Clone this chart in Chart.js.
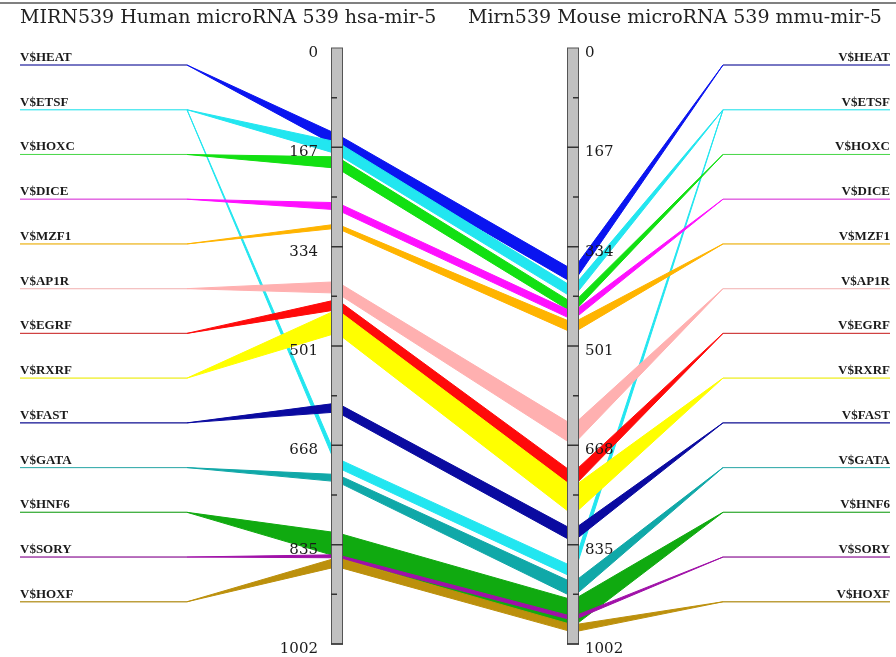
<!DOCTYPE html>
<html>
<head>
<meta charset="utf-8">
<script src="https://cdn.jsdelivr.net/npm/chart.js@4"></script>
<style>
  body { margin: 0; background: #fff; }
</style>
</head>
<body>
<canvas id="myChart" width="896" height="657"></canvas>
<script>
// factors and their site ranges (position in bp, 0..1002)
const factors = ['V$HEAT', 'V$ETSF', 'V$HOXC', 'V$DICE', 'V$MZF1', 'V$AP1R', 'V$EGRF',
  'V$RXRF', 'V$FAST', 'V$GATA', 'V$HNF6', 'V$SORY', 'V$HOXF'];
const colors = ['#0a14f0', '#22e6f0', '#12e012', '#ff10ff', '#ffb400', '#ffb0b0', '#ff0a0a',
  '#ffff00', '#0a0aa0', '#10a8a8', '#10aa10', '#a010a8', '#bc900c'];
const lineColors = ['#4a4ab0', '#50e8f0', '#50d850', '#e060e0', '#f0c040', '#f4c0c0', '#d04040',
  '#f0f040', '#3030a0', '#40b0b0', '#40b040', '#a040a8', '#b89830'];
const humanStart = [145, 158, 183, 260, 296, 393, 423, 440, 597, 717, 815, 852, 857];
const humanEnd   = [165, 178, 202, 272, 303, 412, 440, 479, 612, 729, 855, 857, 872];
const mouseStart = [373, 402, 429, 444, 462, 634, 714, 738, 810, 899, 928, 956, 970];
const mouseEnd   = [395, 420, 445, 457, 479, 667, 738, 785, 830, 923, 973, 962, 982];

// second group of sites for V$ETSF
const extraFactor = [1];
const extraHumanStart = [690];
const extraHumanEnd = [705];
const extraMouseStart = [872];
const extraMouseEnd = [890];

const tickValues = [0, 167, 334, 501, 668, 835, 1002];
const titleHuman = 'MIRN539 Human microRNA 539 hsa-mir-5';
const titleMouse = 'Mirn539 Mouse microRNA 539 mmu-mir-5';

// layout (x in canvas pixels)
const LINE_L0 = 20, LINE_L1 = 187, BAR_L = 337, BAR_R = 573, LINE_R0 = 723, LINE_R1 = 890;
const BAR_W = 12;
const LABEL_TOP = 28.6, LABEL_STEP = 75.2;

function labelY(i) {
  return LABEL_TOP + LABEL_STEP * i;
}

function edge(i, h, m, withLines) {
  let pts = [];
  if (withLines) pts.push({x: LINE_L0, y: labelY(i)});
  pts.push({x: LINE_L1, y: labelY(i)});
  pts.push({x: BAR_L, y: h});
  pts.push({x: BAR_R, y: m});
  pts.push({x: LINE_R0, y: labelY(i)});
  if (withLines) pts.push({x: LINE_R1, y: labelY(i)});
  return pts;
}

// the flat label lines are drawn a bit lighter
function segColor(i) {
  return c => {
    const flat = c.p0.parsed.x === LINE_L0 || c.p1.parsed.x === LINE_R1;
    return flat ? lineColors[i] : colors[i];
  };
}

let datasets = [];
function addBand(i, h1, h2, m1, m2, withLines) {
  datasets.push({
    data: edge(i, h1, m1, withLines),
    borderColor: colors[i], backgroundColor: colors[i],
    segment: { borderColor: segColor(i) },
    borderWidth: 1, pointRadius: 0, fill: '+1'
  });
  datasets.push({
    data: edge(i, h2, m2, withLines),
    borderColor: colors[i], backgroundColor: colors[i],
    segment: { borderColor: segColor(i) },
    borderWidth: 1, pointRadius: 0, fill: false
  });
}

for (let i = factors.length - 1; i >= 0; i--) {
  addBand(i, humanStart[i], humanEnd[i], mouseStart[i], mouseEnd[i], true);
}
extraFactor.forEach((f, k) => {
  addBand(f, extraHumanStart[k], extraHumanEnd[k], extraMouseStart[k], extraMouseEnd[k], false);
});

const overlay = {
  id: 'overlay',
  beforeDraw(chart) {
    const ctx = chart.ctx;
    ctx.save();
    ctx.fillStyle = '#fff';
    ctx.fillRect(0, 0, chart.width, chart.height);
    ctx.restore();
  },
  afterDatasetsDraw(chart) {
    const {ctx, scales: {x, y}} = chart;
    ctx.save();

    // top rule and titles
    ctx.strokeStyle = '#808080';
    ctx.lineWidth = 2;
    ctx.beginPath();
    ctx.moveTo(0, 3);
    ctx.lineTo(chart.width, 3);
    ctx.stroke();
    ctx.fillStyle = '#222';
    ctx.font = '19px "DejaVu Serif"';
    ctx.textBaseline = 'alphabetic';
    ctx.textAlign = 'left';
    ctx.fillText(titleHuman, 20, 23, 425);
    ctx.fillText(titleMouse, 468, 23, 422);

    // the two position bars
    const top = y.getPixelForValue(0), bottom = y.getPixelForValue(1002);
    [BAR_L, BAR_R].forEach((bx, side) => {
      const cx = x.getPixelForValue(bx);
      const left = cx - BAR_W / 2, right = cx + BAR_W / 2;
      ctx.fillStyle = '#c0c0c0';
      ctx.fillRect(left, top, BAR_W, bottom - top);
      ctx.strokeStyle = '#555';
      ctx.lineWidth = 1;
      ctx.strokeRect(left + 0.5, top, BAR_W - 1, bottom - top);

      ctx.strokeStyle = '#333';
      ctx.lineWidth = 1.5;
      for (let k = 0; k < tickValues.length - 1; k++) {
        const major = y.getPixelForValue(tickValues[k + 1]);
        const minor = y.getPixelForValue((tickValues[k] + tickValues[k + 1]) / 2);
        ctx.beginPath();
        ctx.moveTo(left, major);
        ctx.lineTo(right, major);
        if (side === 0) {
          ctx.moveTo(left, minor);
          ctx.lineTo(cx, minor);
        } else {
          ctx.moveTo(cx, minor);
          ctx.lineTo(right, minor);
        }
        ctx.stroke();
      }

      ctx.fillStyle = '#1a1a1a';
      ctx.font = '15px "DejaVu Serif"';
      ctx.textBaseline = 'middle';
      ctx.textAlign = side === 0 ? 'right' : 'left';
      tickValues.forEach(v => {
        const tx = side === 0 ? left - 13 : right + 6;
        ctx.fillText(String(v), tx, y.getPixelForValue(v) + 5);
      });
    });

    // factor names
    ctx.fillStyle = '#1a1a1a';
    ctx.font = 'bold 13px "Liberation Serif"';
    ctx.textBaseline = 'alphabetic';
    factors.forEach((name, i) => {
      const py = y.getPixelForValue(labelY(i)) - 4;
      ctx.textAlign = 'left';
      ctx.fillText(name, x.getPixelForValue(LINE_L0), py);
      ctx.textAlign = 'right';
      ctx.fillText(name, x.getPixelForValue(LINE_R1), py);
    });
    ctx.restore();
  }
};

new Chart(document.getElementById('myChart'), {
  type: 'line',
  data: { datasets: datasets },
  options: {
    responsive: false,
    animation: false,
    events: [],
    layout: { padding: { top: 48, bottom: 13, left: 0, right: 0 } },
    elements: { line: { tension: 0 } },
    scales: {
      x: { type: 'linear', display: false, min: 0, max: 896 },
      y: { type: 'linear', display: false, min: 0, max: 1002, reverse: true }
    },
    plugins: { legend: { display: false }, tooltip: { enabled: false } }
  },
  plugins: [overlay]
});
</script>
</body>
</html>
